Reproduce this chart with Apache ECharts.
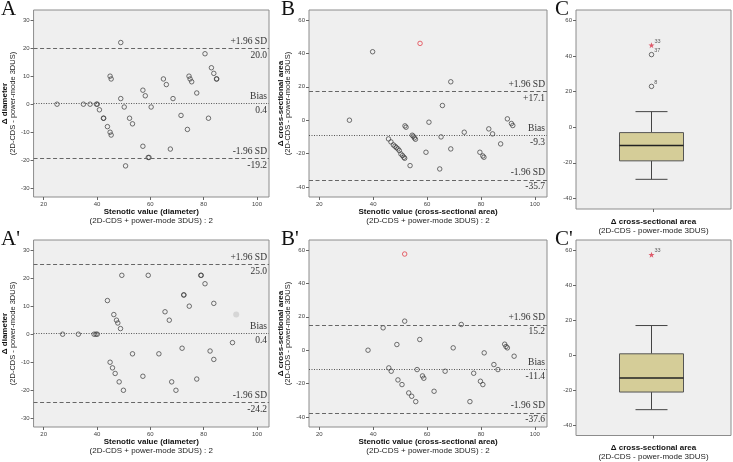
<!DOCTYPE html>
<html><head><meta charset="utf-8">
<script src="https://cdn.jsdelivr.net/npm/echarts@6/dist/echarts.min.js"></script>
<style>html,body{margin:0;padding:0;background:#fff}#c{width:733px;height:462px}</style>
</head><body><div id="c"></div>
<script>
// ---------- data ----------
const xTicks = [20, 40, 60, 80, 100];
const yTicksDiam = [-30, -20, -10, 0, 10, 20, 30];
const yTicksArea = [-40, -20, 0, 20, 40, 60];

const limitNames = ['+1.96 SD', 'Bias', '-1.96 SD'];

// Panel A: diameter (2D-CDS vs power-mode 3DUS)
const diamA = [[25.0,0],[34.9,0],[37.4,0],[39.8,0],[40.1,0],[40.9,-2],[42.4,-5],[42.5,-5],[43.9,-8],[44.9,10],[45.3,9],[44.9,-10],[45.3,-11],[48.9,22],[48.9,2],[50.2,-1],[50.7,-22],[52.2,-5],[53.3,-7],[57.2,5],[57.2,-15],[58.1,3],[59.2,-19],[59.5,-19],[60.3,-1],[64.9,9],[66.0,7],[67.5,-16],[68.5,2],[71.5,-4],[73.9,-9],[74.5,10],[74.9,9],[75.5,8],[77.4,4],[80.5,18],[81.8,-5],[82.9,13],[83.8,11],[84.8,9],[84.9,9]];
const limitsA = [20.0, 0.4, -19.2];
const limitTextA = ['20.0', '0.4', '-19.2'];

// Panel B: cross-sectional area
const areaB = [[31.2,0],[39.8,41],[45.7,-11.2],[46.6,-13],[47.5,-14.8],[48.1,-15.6],[48.6,-16.4],[49.2,-17.2],[49.7,-18.2],[50.3,-20.2],[50.9,-21.2],[51.4,-22.2],[51.7,-22.8],[51.8,-3.4],[52.2,-4.2],[53.7,-27.2],[54.5,-9],[54.9,-9.6],[55.3,-10.6],[55.7,-11.4],[59.6,-19.2],[60.7,-1.2],[64.7,-29.2],[65.2,-10],[65.7,8.8],[68.8,23],[68.8,-17.2],[73.8,-7.2],[79.6,-19.2],[80.7,-21.4],[81.1,-22.2],[82.9,-5.2],[84.3,-8.2],[87.3,-14.2],[89.8,0.8],[91.3,-2],[91.8,-3.2]];
const outlierB = [[57.4,46]];
const limitsB = [17.1, -9.3, -35.7];
const limitTextB = ['+17.1', '-9.3', '-35.7'];

// Panel C: box plot of delta cross-sectional area [min, Q1, median, Q3, max]
const boxC = [-29.3, -18.9, -10.3, -3.0, 8.8];
const outlierStarC = [46.2];
const outlierStarCIds = ['33'];
const outlierCircC = [40.9, 23];
const outlierCircCIds = ['37', '8'];

// Panel A': diameter
const diamA2 = [[27.1,0],[33.0,0],[38.9,0],[39.6,0],[40.1,0],[43.9,12],[44.9,-10],[45.8,-12],[46.3,7],[46.8,-14],[47.3,5],[47.8,4],[48.3,-17],[48.8,2],[49.3,21],[49.9,-20],[53.3,-7],[57.2,-15],[59.2,21],[63.2,-7],[65.5,8],[67.1,5],[68.0,-17],[69.6,-20],[71.9,-5],[72.5,14],[72.6,14],[74.6,10],[77.4,-16],[78.9,21],[79.1,21],[80.5,18],[82.4,-6],[83.8,11],[83.8,-9],[90.8,-3]];
const fadedA2 = [[92.2,7]];
const limitsA2 = [25.0, 0.4, -24.2];
const limitTextA2 = ['25.0', '0.4', '-24.2'];

// Panel B': cross-sectional area
const areaB2 = [[38.1,0],[43.7,13.4],[48.8,3.4],[45.8,-10.6],[46.7,-12.6],[49.2,-17.8],[50.7,-20.6],[51.7,17.4],[53.2,-25.6],[54.3,-27.6],[55.8,-30.8],[56.3,-11.6],[57.3,6.4],[58.3,-15.4],[58.8,-16.8],[62.6,-24.6],[66.7,-12.6],[69.7,1.4],[72.7,15.4],[75.9,-30.8],[77.3,-13.8],[79.8,-18.6],[80.7,-20.6],[81.2,-1.6],[84.8,-8.6],[86.3,-11.6],[88.8,3.6],[89.3,2.2],[89.8,1.4],[92.3,-3.6]];
const outlierB2 = [[51.7,57.6]];
const limitsB2 = [15.2, -11.4, -37.6];
const limitTextB2 = ['15.2', '-11.4', '-37.6'];

// Panel C'
const boxC2 = [-31.2, -21.1, -13.1, 0.8, 17.0];
const outlierStarC2 = [57.6];
const outlierStarC2Ids = ['33'];

const boxCategory = ['Δ cross-sectional area'];

// ---------- styling helpers ----------
const SANS = 'Liberation Sans, Arial, sans-serif';
const SERIF = 'Liberation Serif, Times New Roman, serif';
const STAR = 'path://M0,-10 L2.4,-3.1 L9.5,-3.1 L3.8,1.2 L5.9,8.1 L0,4 L-5.9,8.1 L-3.8,1.2 L-9.5,-3.1 L-2.4,-3.1 Z';

const grids = [
  {left: 32, top: 10, width: 237, height: 187},
  {left: 309, top: 10, width: 238, height: 187},
  {left: 576, top: 10, width: 155, height: 199},
  {left: 32, top: 240, width: 237, height: 187},
  {left: 309, top: 240, width: 238, height: 187},
  {left: 576, top: 240, width: 155, height: 199}
].map(g => Object.assign({show: true, backgroundColor: '#efefef', borderColor: '#8c8c8c', borderWidth: 1, containLabel: false}, g));

const tickStyle = {show: true, inside: false, length: 3, lineStyle: {color: '#666', width: 1}};
const labelStyle = {fontSize: 6, color: '#444', fontFamily: SANS};

function xTitle(main, sub) {
  return {
    name: '{b|' + main + '}\n{n|' + sub + '}',
    nameLocation: 'middle', nameGap: 10,
    nameTextStyle: {rich: {
      b: {fontFamily: SANS, fontWeight: 'bold', fontSize: 8, lineHeight: 9, color: '#111'},
      n: {fontFamily: SANS, fontSize: 8, lineHeight: 9, color: '#222'}
    }}
  };
}
function yTitle(main, sub) {
  return {
    name: '{b|' + main + '}\n{n|' + sub + '}',
    nameLocation: 'middle', nameGap: 13, nameRotate: 90,
    nameTextStyle: {rich: {
      b: {fontFamily: SANS, fontWeight: 'bold', fontSize: 8, lineHeight: 8, color: '#111'},
      n: {fontFamily: SANS, fontSize: 7.5, lineHeight: 8, color: '#222'}
    }}
  };
}
function valX(gi, title) {
  return Object.assign({
    type: 'value', gridIndex: gi, min: 16.2, max: 104.5,
    axisLine: {show: false, onZero: false}, splitLine: {show: false},
    axisTick: Object.assign({customValues: xTicks}, tickStyle),
    axisLabel: Object.assign({customValues: xTicks, margin: 4}, labelStyle)
  }, title);
}
function valY(gi, min, max, ticks, title) {
  return Object.assign({
    type: 'value', gridIndex: gi, min: min, max: max,
    axisLine: {show: false, onZero: false}, splitLine: {show: false},
    axisTick: Object.assign({customValues: ticks}, tickStyle),
    axisLabel: Object.assign({customValues: ticks, margin: 4}, labelStyle)
  }, title);
}
function catX(gi) {
  return Object.assign({
    type: 'category', gridIndex: gi, data: boxCategory,
    axisLine: {show: false, onZero: false}, splitLine: {show: false},
    axisTick: Object.assign({alignWithLabel: true}, tickStyle),
    axisLabel: {show: false}
  }, xTitle(boxCategory[0], '(2D-CDS - power-mode 3DUS)'), {nameGap: 8});
}

function limitLines(vals, texts) {
  const lblBase = {show: true, fontFamily: SERIF, fontSize: 9.5, color: '#333', distance: [2, 2]};
  const data = [];
  vals.forEach((v, i) => {
    const ls = i === 1 ? {type: [1, 1.5], color: '#555', width: 1} : {type: [4, 2.5], color: '#666', width: 1};
    data.push({yAxis: v, lineStyle: ls, label: Object.assign({}, lblBase, {position: 'insideEndTop', formatter: limitNames[i]})});
    data.push({yAxis: v, lineStyle: {color: 'rgba(0,0,0,0)', width: 1, type: 'solid'}, label: Object.assign({}, lblBase, {position: 'insideEndBottom', formatter: texts[i]})});
  });
  return {symbol: 'none', silent: true, animation: false, data: data};
}

function scatter(xi, data, limits, texts, color) {
  const s = {
    type: 'scatter', xAxisIndex: xi, yAxisIndex: xi, data: data,
    symbol: 'circle', symbolSize: 4.5, silent: true,
    itemStyle: {color: 'rgba(0,0,0,0)', borderColor: color || '#3a3a3a', borderWidth: 0.9}
  };
  if (limits) s.markLine = limitLines(limits, texts);
  return s;
}

function boxRender(params, api) {
  const x = api.value(0);
  const lo = api.coord([x, api.value(1)]);
  const q1 = api.coord([x, api.value(2)]);
  const md = api.coord([x, api.value(3)]);
  const q3 = api.coord([x, api.value(4)]);
  const hi = api.coord([x, api.value(5)]);
  const cx = lo[0] - 2, bw = 32, cw = 16;
  const ln = {stroke: '#444', lineWidth: 1};
  return {type: 'group', children: [
    {type: 'line', shape: {x1: cx, y1: hi[1], x2: cx, y2: q3[1]}, style: ln},
    {type: 'line', shape: {x1: cx, y1: q1[1], x2: cx, y2: lo[1]}, style: ln},
    {type: 'line', shape: {x1: cx - cw, y1: hi[1], x2: cx + cw, y2: hi[1]}, style: ln},
    {type: 'line', shape: {x1: cx - cw, y1: lo[1], x2: cx + cw, y2: lo[1]}, style: ln},
    {type: 'rect', shape: {x: cx - bw, y: q3[1], width: 2 * bw, height: q1[1] - q3[1]}, style: {fill: '#d5cd98', stroke: '#555', lineWidth: 1}},
    {type: 'line', shape: {x1: cx - bw, y1: md[1], x2: cx + bw, y2: md[1]}, style: {stroke: '#222', lineWidth: 1.5}}
  ]};
}
function boxSeries(xi, box) {
  return {type: 'custom', xAxisIndex: xi, yAxisIndex: xi, renderItem: boxRender, silent: true,
    encode: {x: 0, y: [1, 2, 3, 4, 5]}, data: [[0].concat(box)]};
}
function outlierSeries(xi, vals, ids, star) {
  return {
    type: 'scatter', xAxisIndex: xi, yAxisIndex: xi, silent: true,
    data: vals.map((v, i) => ({value: [0, v], name: ids[i]})),
    symbol: star ? STAR : 'circle', symbolSize: star ? 6 : 4.5,
    symbolOffset: [-2, 0],
    itemStyle: star ? {color: '#d9364a'} : {color: 'rgba(0,0,0,0)', borderColor: '#3a3a3a', borderWidth: 0.9},
    label: {show: true, position: 'right', distance: 1, offset: [-1, -4], formatter: p => p.name, fontSize: 5.5, color: '#333', fontFamily: SANS}
  };
}

const letterStyle = {fontFamily: SERIF, fontSize: 21, fontWeight: 'normal', color: '#111'};
const option = {
  animation: false,
  backgroundColor: '#fff',
  title: [
    {text: 'A', left: 1, top: -1, textStyle: letterStyle, padding: 0},
    {text: 'B', left: 281, top: -1, textStyle: letterStyle, padding: 0},
    {text: 'C', left: 555, top: -1, textStyle: letterStyle, padding: 0},
    {text: "A'", left: 1, top: 229, textStyle: letterStyle, padding: 0},
    {text: "B'", left: 281, top: 229, textStyle: letterStyle, padding: 0},
    {text: "C'", left: 555, top: 229, textStyle: letterStyle, padding: 0}
  ],
  grid: grids,
  xAxis: [
    valX(0, xTitle('Stenotic value (diameter)', '(2D-CDS + power-mode 3DUS) : 2')),
    valX(1, xTitle('Stenotic value (cross-sectional area)', '(2D-CDS + power-mode 3DUS) : 2')),
    catX(2),
    valX(3, xTitle('Stenotic value (diameter)', '(2D-CDS + power-mode 3DUS) : 2')),
    valX(4, xTitle('Stenotic value (cross-sectional area)', '(2D-CDS + power-mode 3DUS) : 2')),
    catX(5)
  ],
  yAxis: [
    valY(0, -33.1, 33.6, yTicksDiam, yTitle('Δ diameter', '(2D-CDS - power-mode 3DUS)')),
    valY(1, -46, 66, yTicksArea, yTitle('Δ cross-sectional area', '(2D-CDS - power-mode 3DUS)')),
    valY(2, -46, 66, yTicksArea, {}),
    valY(3, -33.1, 33.6, yTicksDiam, yTitle('Δ diameter', '(2D-CDS - power-mode 3DUS)')),
    valY(4, -46, 66, yTicksArea, yTitle('Δ cross-sectional area', '(2D-CDS - power-mode 3DUS)')),
    valY(5, -46, 66, yTicksArea, {})
  ],
  series: [
    scatter(0, diamA, limitsA, limitTextA),
    scatter(1, areaB, limitsB, limitTextB),
    scatter(1, outlierB, null, null, '#e0303a'),
    boxSeries(2, boxC),
    outlierSeries(2, outlierStarC, outlierStarCIds, true),
    outlierSeries(2, outlierCircC, outlierCircCIds, false),
    scatter(3, diamA2, limitsA2, limitTextA2),
    {type: 'scatter', xAxisIndex: 3, yAxisIndex: 3, data: fadedA2, symbolSize: 6, silent: true, itemStyle: {color: '#d0d0d0'}},
    scatter(4, areaB2, limitsB2, limitTextB2),
    scatter(4, outlierB2, null, null, '#e0303a'),
    boxSeries(5, boxC2),
    outlierSeries(5, outlierStarC2, outlierStarC2Ids, true)
  ]
};
echarts.init(document.getElementById('c')).setOption(option);
</script>
</body></html>
